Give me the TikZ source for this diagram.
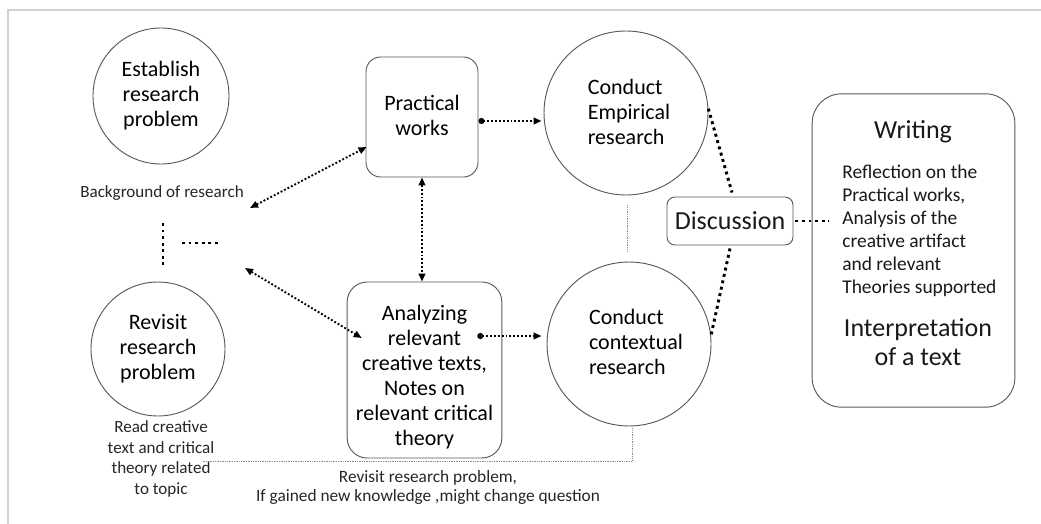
\documentclass[tikz,border=0pt]{standalone}
\usepackage{fontspec}
\setmainfont{Carlito}
\usetikzlibrary{arrows.meta,calc}

\begin{document}
\begin{tikzpicture}[x=0.75pt,y=-0.75pt,
  outline/.style={draw=black!65, line width=0.7pt, text=black!90},
  circ/.style={outline, circle, inner sep=0pt},
  rbox/.style={outline, rectangle, rounded corners=#1, inner sep=0pt},
  midtext/.style={font=\fontsize{16.5}{18.75}\selectfont, align=center},
  smalltext/.style={font=\fontsize{12.8}{15.4}\selectfont, align=center, text=black!85},
  bigtext/.style={font=\fontsize{19.5}{21.75}\selectfont, align=center, text=black!90},
  heavydots/.style={line width=2.2pt, dash pattern=on 2.2pt off 2.7pt},
  linkdots/.style={line width=1.4pt, dash pattern=on 1.4pt off 1.5pt},
  tip/.style={Triangle[length=6pt,width=5pt]},
  twoway/.style={linkdots, {Triangle[length=6pt,width=5pt]}-{Triangle[length=6pt,width=5pt]}},
  dotarrow/.style={linkdots, {Circle[length=4.5pt]}-{Triangle[length=6pt,width=5pt]}},
  faint/.style={draw=black!45, line width=0.6pt, dash pattern=on 0.6pt off 0.7pt}
]
\useasboundingbox (0,0) rectangle (1041,524);

% page frame
\draw[black!18, line width=1.6pt] (1041,10) -- (8,10) -- (8,524);

% left column
\node[circ, minimum size=102pt] (est) at (161,96) {};
\node[midtext] at (est) {Establish\\research\\problem};
\node[smalltext] (bg) at (162,193) {Background of research};

\coordinate (v1) at (163,223);
\coordinate (v2) at (163,265);
\coordinate (h1) at (182,243);
\coordinate (h2) at (218,243);
\draw[heavydots] (v1) -- (v2);
\draw[heavydots] (h1) -- (h2);

\node[circ, minimum size=100.5pt] (rev) at (158,349) {};
\node[midtext] at (rev) {Revisit\\research\\problem};
\node[smalltext, font=\fontsize{12.8}{15.5}\selectfont] (read) at (161,459) {Read creative\\text and critical\\theory related\\to topic};

% middle column
\node[rbox=11pt, minimum width=84pt, minimum height=90pt] (prac) at (422,117) {};
\node[midtext] at (422,115) {Practical\\works};

\node[rbox=15pt, minimum width=116pt, minimum height=132pt] (ana) at (424.5,370) {};
\node[midtext] at (424.5,377) {Analyzing\\relevant\\creative texts,\\Notes on\\relevant critical\\theory};

\node[circ, minimum size=123pt] (emp) at (626,113) {};
\node[midtext, align=left] at (629,112) {Conduct\\Empirical\\research};

\node[circ, minimum size=123pt] (ctx) at (629,344) {};
\node[midtext, align=left] at (636,342) {Conduct\\contextual\\research};

\node[rbox=6pt, minimum width=94.5pt, minimum height=36pt, bigtext] (disc) at (730,221) {Discussion};

% writing block
\node[rbox=22pt, minimum width=152pt, minimum height=235pt] (writ) at (913.5,250.5) {};
\node[bigtext] at (913,132) {Writing};
\node[font=\fontsize{14.6}{17.25}\selectfont, align=left, anchor=west, inner xsep=0pt, text=black!90]
  at (842,230.5) {Reflection on the\\Practical works,\\Analysis of the\\creative artifact\\and relevant\\Theories supported};
\node[bigtext] at (918,342.5) {Interpretation\\of a text};

\node[smalltext, font=\fontsize{13}{14.4}\selectfont] (ret) at (428,487.5) {Revisit research problem,\\If gained new knowledge ,might change question};

% connectors
\coordinate (bgend) at (250,208);
\coordinate (revend) at (245,268);
\draw[twoway] (bgend) -- ([shift={(1,30)}]prac.west);
\draw[twoway] (revend) -- ([shift={(15,-32)}]ana.west);
\draw[twoway] (prac.south) -- (prac.south |- ana.north);
\draw[dotarrow] ([shift={(0,4)}]prac.east) -- ([shift={(-2,8)}]emp.west);
\draw[dotarrow] ([shift={(-25,-34)}]ana.east) -- ([shift={(-5,-8)}]ctx.west);

\draw[faint] ([shift={(1,10)}]emp.south) -- ([shift={(1,-10)}]emp.south |- ctx.north);
\coordinate (retend) at (203,461);
\draw[faint] ([shift={(3,2)}]ctx.south) |- (retend);

\draw[heavydots] (emp.3) -- ([shift={(2,-4)}]disc.north);
\draw[heavydots] ([shift={(0,3)}]disc.south) -- (ctx.6);
\draw[heavydots] ([xshift=1.5pt]disc.east) -- ($(writ.west |- disc.east)+(17,0)$);
\end{tikzpicture}
\end{document}
